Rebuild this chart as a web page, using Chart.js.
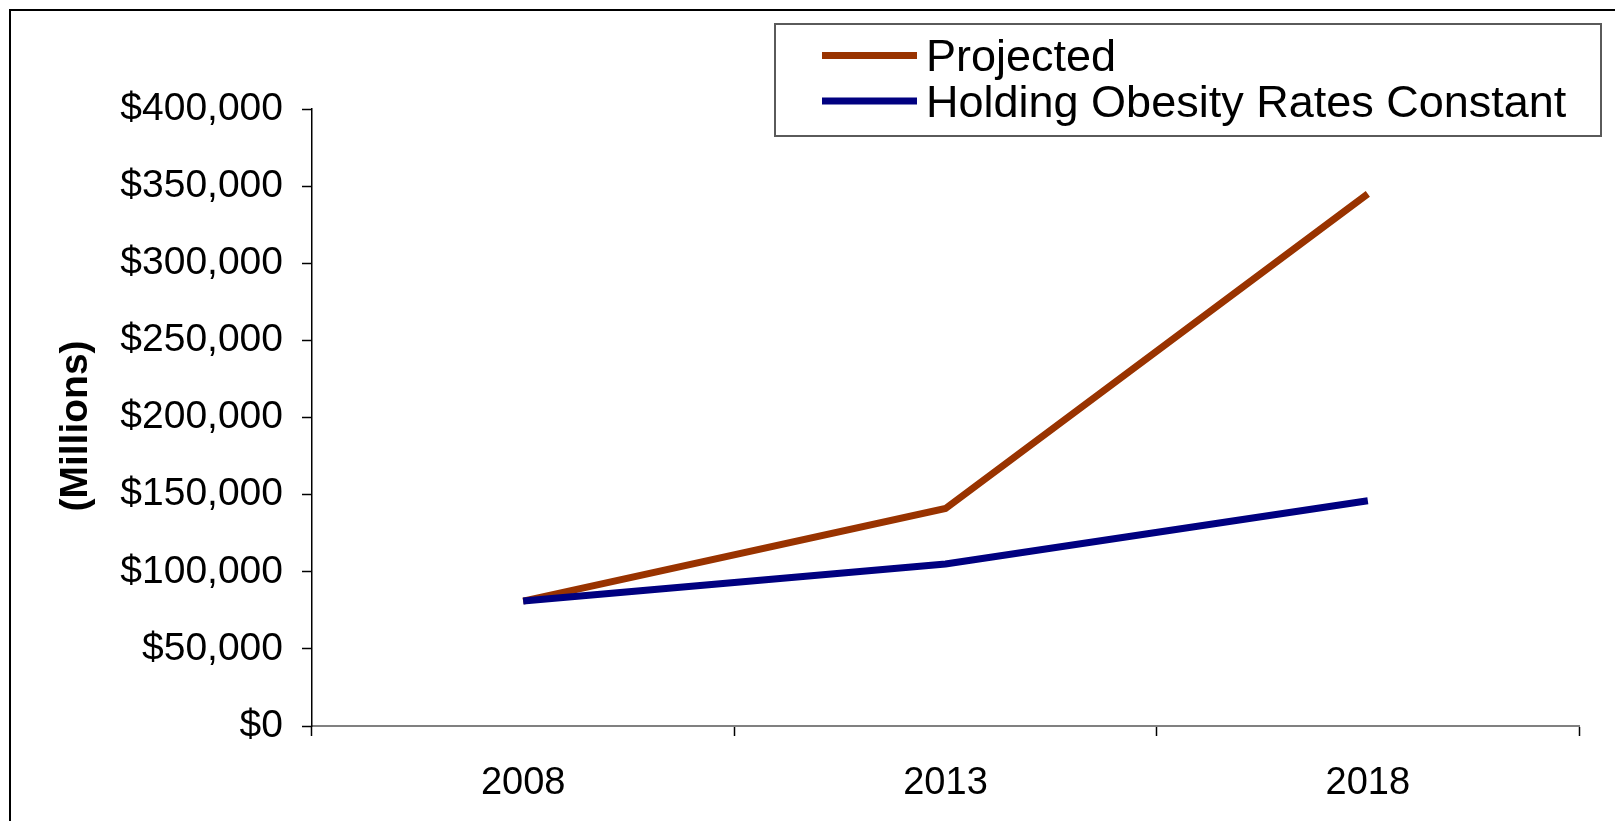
<!DOCTYPE html>
<html>
<head>
<meta charset="utf-8">
<script src="https://cdn.jsdelivr.net/npm/chart.js@4.4.1/dist/chart.umd.min.js"></script>
<style>
  html, body { margin: 0; padding: 0; background: #fff; }
  #chart { display: block; }
</style>
</head>
<body>
<canvas id="chart" width="1615" height="821"></canvas>
<script>
const years = ['2008', '2013', '2018']
const projected = [81000, 141000, 345000]
const constantRates = [81000, 105000, 146000]
const seriesNames = ['Projected', 'Holding Obesity Rates Constant']
const seriesColors = ['#993300', '#000080']
const axisTitle = '(Millions)'

const fontFamily = '"Liberation Sans", Arial, sans-serif'

// sheet border (top/left), rotated axis title and the boxed legend
const decorations = {
  id: 'decorations',
  afterDraw (chart) {
    const { ctx } = chart
    ctx.save()
    ctx.strokeStyle = '#000'
    ctx.lineWidth = 2
    ctx.beginPath()
    ctx.moveTo(10, chart.height)
    ctx.lineTo(10, 10)
    ctx.lineTo(chart.width, 10)
    ctx.stroke()

    // axis title sits a little below the middle of the plot
    ctx.save()
    ctx.translate(76, 426)
    ctx.rotate(-Math.PI / 2)
    ctx.font = `bold 39px ${fontFamily}`
    ctx.fillStyle = '#000'
    ctx.textAlign = 'center'
    ctx.textBaseline = 'middle'
    ctx.fillText(axisTitle, 0, 0)
    ctx.restore()

    const box = { x: 775, y: 24, w: 826, h: 112 }
    ctx.strokeStyle = '#5a5a5a'
    ctx.lineWidth = 2
    ctx.strokeRect(box.x, box.y, box.w, box.h)

    ctx.font = `45px ${fontFamily}`
    ctx.fillStyle = '#000'
    ctx.textBaseline = 'alphabetic'
    seriesNames.forEach((name, i) => {
      const rowY = box.y + 31.5 + i * 45.5
      ctx.strokeStyle = seriesColors[i]
      ctx.lineWidth = 7
      ctx.beginPath()
      ctx.moveTo(box.x + 47, rowY)
      ctx.lineTo(box.x + 142, rowY)
      ctx.stroke()
      ctx.fillText(name, box.x + 151, rowY + 15.5)
    })
    ctx.restore()
  }
}

new Chart(document.getElementById('chart'), {
  type: 'line',
  data: {
    labels: years,
    datasets: [
      { label: seriesNames[0], data: projected, borderColor: seriesColors[0], order: 1 },
      { label: seriesNames[1], data: constantRates, borderColor: seriesColors[1], order: 0 }
    ]
  },
  options: {
    responsive: false,
    animation: false,
    layout: { padding: { top: 109, left: 0, right: 36, bottom: 0 } },
    elements: {
      line: { borderWidth: 7, tension: 0, borderCapStyle: 'butt', borderJoinStyle: 'miter' },
      point: { radius: 0, hoverRadius: 0 }
    },
    plugins: { legend: { display: false }, tooltip: { enabled: false } },
    scales: {
      x: {
        offset: true,
        grid: { offset: true, drawOnChartArea: false, tickLength: 10, tickColor: '#000', tickWidth: 1.5 },
        border: { color: '#808080', width: 2 },
        ticks: { color: '#000', padding: 25, font: { family: fontFamily, size: 38 }, maxRotation: 0 },
        afterFit (scale) {
          scale.height = 95
          scale.paddingLeft = 0
          scale.paddingRight = 0
        }
      },
      y: {
        min: 0,
        max: 400000,
        grid: { drawOnChartArea: false, tickLength: 10, tickColor: '#000', tickWidth: 1.5 },
        border: { color: '#000', width: 1.5 },
        ticks: {
          stepSize: 50000,
          color: '#000',
          padding: 19,
          font: { family: fontFamily, size: 39 },
          callback: value => '$' + value.toLocaleString('en-US')
        },
        afterFit (scale) {
          scale.width = 312
          scale.paddingTop = 0
          scale.paddingBottom = 0
        }
      }
    }
  },
  plugins: [decorations]
})
</script>
</body>
</html>
